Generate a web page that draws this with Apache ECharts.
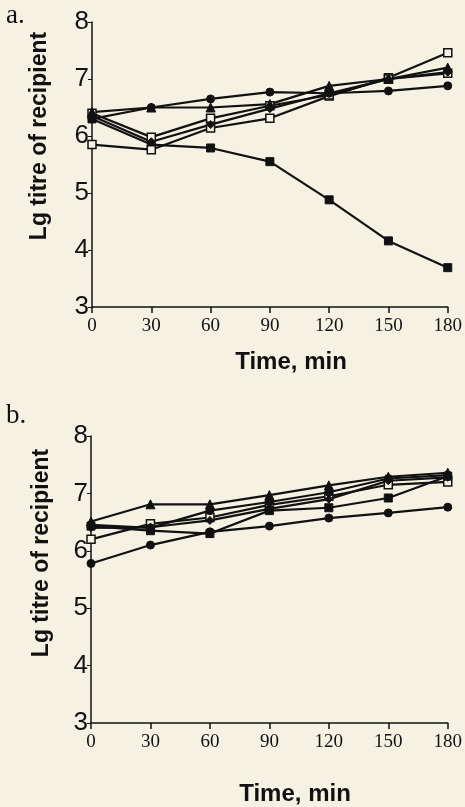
<!DOCTYPE html>
<html>
<head>
<meta charset="utf-8">
<script src="https://cdn.jsdelivr.net/npm/echarts@6/dist/echarts.min.js"></script>
<style>
  html, body { margin: 0; padding: 0; background: #f5f2e4; }
  #chart { width: 465px; height: 807px; }
</style>
</head>
<body>
<div id="chart"></div>
<script>
// time points (min)
const times = [0, 30, 60, 90, 120, 150, 180]

// panel a
const aFilledSquare = [6.30, 5.85, 5.79, 5.55, 4.88, 4.16, 3.69]
const aOpenSquare1 = [5.85, 5.76, 6.14, 6.31, 6.70, 7.02, 7.46]
const aOpenSquare2 = [6.40, 5.98, 6.31, 6.53, 6.72, 7.00, 7.10]
const aTriangle = [6.42, 6.50, 6.50, 6.56, 6.88, 7.00, 7.20]
const aCircle = [6.30, 6.50, 6.65, 6.77, 6.75, 6.79, 6.88]
const aDiamond = [6.35, 5.90, 6.20, 6.48, 6.75, 7.00, 7.12]

// panel b
const bTriangle = [6.51, 6.81, 6.81, 6.97, 7.14, 7.29, 7.36]
const bCircleLow = [5.78, 6.10, 6.33, 6.43, 6.57, 6.66, 6.76]
const bOpenSquare = [6.20, 6.47, 6.58, 6.80, 6.95, 7.15, 7.20]
const bFilledSquare = [6.43, 6.35, 6.30, 6.70, 6.75, 6.92, 7.30]
const bDiamond = [6.40, 6.41, 6.53, 6.73, 6.90, 7.22, 7.28]
const bCircleHigh = [6.45, 6.40, 6.70, 6.85, 7.02, 7.26, 7.32]

const chart = echarts.init(document.getElementById('chart'))

const ink = '#111'
const paper = '#f5f2e4'
const pts = vals => vals.map((v, i) => [times[i], v])

const mk = (name, vals, idx, symbol, open) => ({
  name,
  type: 'line',
  xAxisIndex: idx,
  yAxisIndex: idx,
  data: pts(vals),
  symbol,
  symbolSize: symbol === 'triangle' ? 9 : 8,
  lineStyle: { color: ink, width: 2.2 },
  itemStyle: open
    ? { color: paper, borderColor: ink, borderWidth: 1.5 }
    : { color: ink, borderColor: ink, borderWidth: 1 },
  animation: false
})

const xAxisCommon = {
  type: 'value',
  min: 0,
  max: 180,
  interval: 30,
  axisLine: { lineStyle: { color: ink, width: 1.5 } },
  axisTick: { show: true, length: 6, lineStyle: { color: ink, width: 1.5 } },
  axisLabel: { color: ink, fontFamily: 'Liberation Serif', fontSize: 19, margin: 10 },
  splitLine: { show: false }
}

const yAxisCommon = {
  type: 'value',
  min: 3,
  max: 8,
  interval: 1,
  axisLine: { show: true, lineStyle: { color: ink, width: 1.5 } },
  axisTick: { show: true, length: 4, lineStyle: { color: ink, width: 1 } },
  axisLabel: { color: ink, fontFamily: 'Liberation Sans', fontSize: 26, margin: 3 },
  splitLine: { show: false }
}

const option = {
  backgroundColor: paper,
  grid: [
    { left: 92, right: 16, top: 22, bottom: 500 },
    { left: 91, right: 17, top: 436, bottom: 84 }
  ],
  xAxis: [
    { ...xAxisCommon, gridIndex: 0 },
    { ...xAxisCommon, gridIndex: 1 }
  ],
  yAxis: [
    { ...yAxisCommon, gridIndex: 0 },
    { ...yAxisCommon, gridIndex: 1 }
  ],
  graphic: [
    { type: 'text', left: 6, top: 2, style: { text: 'a.', font: '27px "Liberation Serif"', fill: ink } },
    { type: 'text', left: 6, top: 402, style: { text: 'b.', font: '27px "Liberation Serif"', fill: ink } },
    {
      type: 'text', x: 40, y: 136, rotation: Math.PI / 2,
      style: { text: 'Lg titre of recipient', font: 'bold 23px "Liberation Sans"', fill: ink, align: 'center', verticalAlign: 'middle' }
    },
    {
      type: 'text', x: 42, y: 553, rotation: Math.PI / 2,
      style: { text: 'Lg titre of recipient', font: 'bold 23px "Liberation Sans"', fill: ink, align: 'center', verticalAlign: 'middle' }
    },
    {
      type: 'text', x: 291, y: 362,
      style: { text: 'Time, min', font: 'bold 24px "Liberation Sans"', fill: ink, align: 'center', verticalAlign: 'middle' }
    },
    {
      type: 'text', x: 295, y: 794,
      style: { text: 'Time, min', font: 'bold 24px "Liberation Sans"', fill: ink, align: 'center', verticalAlign: 'middle' }
    }
  ],
  series: [
    mk('a filled square', aFilledSquare, 0, 'rect', false),
    mk('a open square 1', aOpenSquare1, 0, 'rect', true),
    mk('a open square 2', aOpenSquare2, 0, 'rect', true),
    mk('a triangle', aTriangle, 0, 'triangle', false),
    mk('a circle', aCircle, 0, 'circle', false),
    mk('a diamond', aDiamond, 0, 'diamond', false),
    mk('b triangle', bTriangle, 1, 'triangle', false),
    mk('b circle low', bCircleLow, 1, 'circle', false),
    mk('b open square', bOpenSquare, 1, 'rect', true),
    mk('b filled square', bFilledSquare, 1, 'rect', false),
    mk('b diamond', bDiamond, 1, 'diamond', false),
    mk('b circle high', bCircleHigh, 1, 'circle', false)
  ]
}

chart.setOption(option)
</script>
</body>
</html>
